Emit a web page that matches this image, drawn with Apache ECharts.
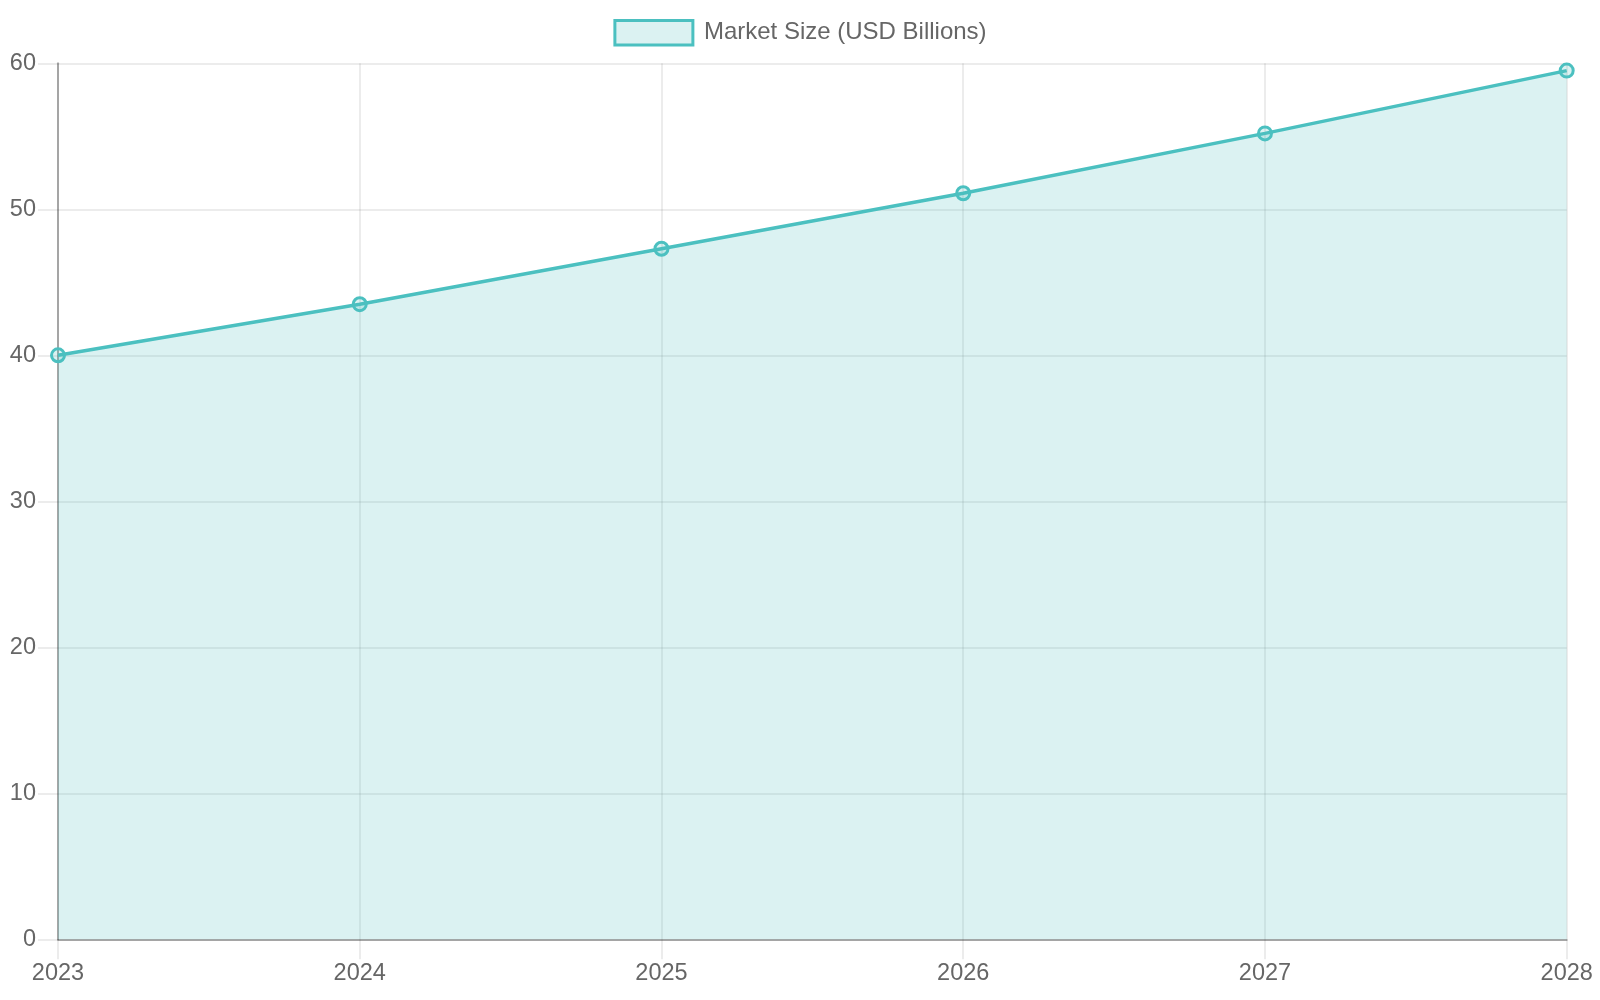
<!DOCTYPE html>
<html>
<head>
<meta charset="utf-8">
<script src="https://cdn.jsdelivr.net/npm/echarts@6/dist/echarts.min.js"></script>
<style>
html,body{margin:0;padding:0;background:#fff;}
#chart{width:1600px;height:1000px;}
</style>
</head>
<body>
<div id="chart"></div>
<script>
const years = ['2023', '2024', '2025', '2026', '2027', '2028'];
const marketSize = [40, 43.5, 47.3, 51.1, 55.2, 59.5];
const seriesName = 'Market Size (USD Billions)';
const yMin = 0, yMax = 60, yInterval = 10;

const chart = echarts.init(document.getElementById('chart'));
const teal = 'rgb(75,192,192)';
const tealFill = 'rgba(75,192,192,0.2)';
const gridColor = 'rgba(0,0,0,0.1)';
const font = '"Liberation Sans", Arial, Helvetica, sans-serif';

chart.setOption({
  animation: false,
  textStyle: { fontFamily: font },
  legend: {
    top: 14,
    left: 'center',
    data: [seriesName],
    itemWidth: 78,
    itemHeight: 24.5,
    icon: 'rect',
    itemStyle: { color: tealFill, borderColor: teal, borderWidth: 3 },
    textStyle: { color: '#666', fontSize: 24, fontFamily: font, padding: [0, 0, 0, 6] }
  },
  grid: { left: 58, right: 33.3, top: 63.3, bottom: 60.7, outerBoundsMode: 'none', containLabel: false },
  xAxis: {
    type: 'category',
    data: years,
    boundaryGap: false,
    axisLine: { show: true, lineStyle: { color: 'rgba(0,0,0,0.3)', width: 2 } },
    axisTick: { show: true, length: 20, alignWithLabel: true, lineStyle: { color: gridColor, width: 1.5 } },
    axisLabel: { color: '#666', fontSize: 23.5, margin: 22, fontFamily: font },
    splitLine: { show: true, lineStyle: { color: gridColor, width: 1.5 } }
  },
  yAxis: {
    type: 'value',
    min: yMin, max: yMax, interval: yInterval,
    axisLine: { show: true, lineStyle: { color: 'rgba(0,0,0,0.3)', width: 2 } },
    axisTick: { show: true, length: 20, lineStyle: { color: gridColor, width: 1.5 } },
    axisLabel: { color: '#666', fontSize: 23.5, margin: 22, fontFamily: font, verticalAlign: 'middle', padding: [2, 0, 0, 0] },
    splitLine: { show: true, lineStyle: { color: gridColor, width: 1.5 } }
  },
  series: [{
    name: seriesName,
    type: 'line',
    data: marketSize,
    symbol: 'circle',
    symbolSize: 13,
    showAllSymbol: true,
    lineStyle: { color: teal, width: 3.5 },
    itemStyle: { color: tealFill, borderColor: teal, borderWidth: 3 },
    areaStyle: { color: tealFill, opacity: 1, origin: 'start' },
    z: 3
  }]
});
</script>
</body>
</html>
